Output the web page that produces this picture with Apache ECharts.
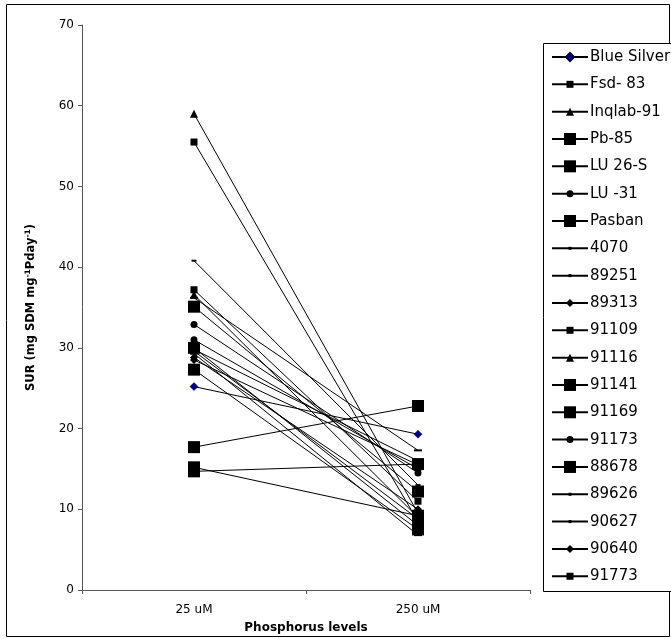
<!DOCTYPE html>
<html><head><meta charset="utf-8">
<script src="https://cdn.jsdelivr.net/npm/echarts@6/dist/echarts.min.js"></script>
<style>html,body{margin:0;padding:0;background:#fff}#c{width:671px;height:639px}</style>
</head><body><div id="c"></div>
<script>
const categories = ['25 uM', '250 uM'];
const seriesNames = ['Blue Silver','Fsd- 83','Inqlab-91','Pb-85','LU 26-S','LU -31','Pasban','4070','89251','89313','91109','91116','91141','91169','91173','88678','89626','90627','90640','91773'];
const blueSilver = [25.2, 19.3];
const fsd83 = [55.5, 8.5];
const inqlab91 = [59.0, 9.5];
const pb85 = [35.1, 12.2];
const lu26s = [30.0, 8.0];
const lu31 = [32.9, 14.5];
const pasban = [27.3, 7.5];
const v4070 = [40.8, 13.0];
const v89251 = [36.2, 17.3];
const v89313 = [28.8, 10.0];
const v91109 = [37.2, 11.0];
const v91116 = [36.6, 9.0];
const v91141 = [17.7, 22.8];
const v91169 = [15.2, 9.2];
const v91173 = [31.0, 15.0];
const v88678 = [14.7, 15.6];
const v89626 = [29.8, 16.0];
const v90627 = [29.3, 6.8];
const v90640 = [28.5, 15.5];
const v91773 = [29.6, 8.8];
const seriesValues = [blueSilver, fsd83, inqlab91, pb85, lu26s, lu31, pasban, v4070, v89251, v89313, v91109, v91116, v91141, v91169, v91173, v88678, v89626, v90627, v90640, v91773];
const yTicks = [0, 10, 20, 30, 40, 50, 60, 70];

const FONT = 'DejaVu Sans, Liberation Sans, Arial, sans-serif';

// marker style: symbol, plot size, legend marker size
const markers = [
  {s:'diamond', z:8, l:8, c:'#000080'},
  {s:'rect', z:7, l:7, c:'#000'},
  {s:'triangle', z:8, l:8, c:'#000'},
  {s:'rect', z:12, l:12, c:'#000'},
  {s:'rect', z:12, l:12, c:'#000'},
  {s:'circle', z:7, l:7, c:'#000'},
  {s:'rect', z:12, l:12, c:'#000'},
  {s:'rect', z:[5,2], l:3, c:'#000'},
  {s:'rect', z:[8,2], l:3, c:'#000'},
  {s:'diamond', z:8, l:8, c:'#000'},
  {s:'rect', z:7, l:7, c:'#000'},
  {s:'triangle', z:8, l:8, c:'#000'},
  {s:'rect', z:12, l:12, c:'#000'},
  {s:'rect', z:12, l:12, c:'#000'},
  {s:'circle', z:7, l:7, c:'#000'},
  {s:'rect', z:12, l:12, c:'#000'},
  {s:'rect', z:[5,2], l:3, c:'#000'},
  {s:'rect', z:[8,2], l:3, c:'#000'},
  {s:'diamond', z:8, l:8, c:'#000'},
  {s:'rect', z:7, l:7, c:'#000'}
];

const series = seriesNames.map((n, i) => ({
  name: n,
  type: 'line',
  data: seriesValues[i],
  symbol: markers[i].s,
  symbolSize: markers[i].z,
  showAllSymbol: true,
  itemStyle: {color: markers[i].c, borderColor: i === 0 ? '#000040' : '#000', borderWidth: i === 0 ? 0.5 : 0},
  lineStyle: {color: '#000', width: 1},
  emphasis: {disabled: true},
  animation: false
}));

const legendTop0 = 57, legendStep = 27.33, legendLH = 18;
const legends = seriesNames.map((n, i) => {
  const h = markers[i].l / 0.8;
  return {
    orient: 'vertical',
    left: 551,
    top: legendTop0 + i * legendStep - Math.max(legendLH / 2, h / 2),
    padding: 0,
    itemWidth: 36, itemHeight: h, itemGap: 0,
    textStyle: {fontSize: 15, lineHeight: legendLH, color: '#000', fontFamily: FONT, padding: [0,0,0,-3]},
    data: [n]
  };
});

const chart = echarts.init(document.getElementById('c'), null, {renderer: 'canvas'});
chart.setOption({
  backgroundColor: '#fff',
  animation: false,
  textStyle: {fontFamily: FONT},
  grid: {left: 82, right: 141, top: 25, bottom: 48, containLabel: false},
  graphic: [
    {type: 'rect', shape: {x: 6.5, y: 4.5, width: 663, height: 632}, style: {fill: 'none', stroke: '#000', lineWidth: 1}, silent: true, z: -1},
    {type: 'rect', shape: {x: 543.5, y: 43.5, width: 140, height: 548}, style: {fill: '#fff', stroke: '#000', lineWidth: 1}, silent: true, z: -1}
  ],
  legend: legends,
  xAxis: {
    type: 'category',
    data: categories,
    boundaryGap: true,
    name: 'Phosphorus levels',
    nameLocation: 'middle',
    nameGap: 32,
    nameTextStyle: {fontWeight: 'bold', fontSize: 12, color: '#000', fontFamily: FONT},
    axisLine: {lineStyle: {color: '#555', width: 1}},
    axisTick: {show: true, length: 4, lineStyle: {color: '#555'}},
    axisLabel: {fontSize: 12, color: '#000', margin: 14, fontFamily: FONT},
    splitLine: {show: false}
  },
  yAxis: {
    type: 'value',
    min: yTicks[0], max: yTicks[yTicks.length - 1], interval: 10,
    name: 'SUR (mg SDM mg{sup|-1}Pday{sup|-1})',
    nameLocation: 'middle',
    nameGap: 44,
    nameRotate: 90,
    nameTextStyle: {fontWeight: 'bold', fontSize: 11.5, color: '#000', fontFamily: FONT,
      rich: {sup: {fontSize: 7.5, fontWeight: 'bold', verticalAlign: 'top', padding: [0,0,6,0], color: '#000', fontFamily: FONT}}},
    axisLine: {show: true, lineStyle: {color: '#555', width: 1}},
    axisTick: {show: true, length: 4, lineStyle: {color: '#555'}},
    axisLabel: {fontSize: 12, color: '#000', margin: 8, fontFamily: FONT},
    splitLine: {show: false}
  },
  series: series
});
</script></body></html>
